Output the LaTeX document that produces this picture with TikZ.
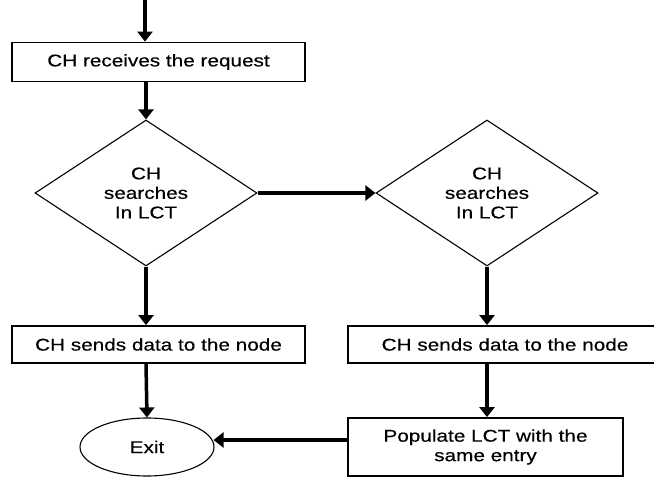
\documentclass[tikz,border=0pt]{standalone}
\usepackage{fontspec}
\setmainfont{Liberation Sans}[FakeStretch=1.22,FakeBold=0.4]
\usetikzlibrary{shapes.geometric,arrows.meta}
\begin{document}
\begin{tikzpicture}[x=1bp,y=-1bp,
  every node/.style={font=\fontsize{17bp}{19.5bp}\selectfont, inner sep=0pt},
  procbox/.style={draw, line width=1.8bp, minimum width=#1, minimum height=37bp, align=center},
  decision/.style={draw, diamond, aspect=1.5, line width=1.1bp, minimum width=222bp, minimum height=146bp, align=center},
  terminal/.style={draw, ellipse, line width=1.1bp, minimum width=134bp, minimum height=58bp},
  flow/.style={line width=3.5bp, -{Triangle[length=10bp,width=15bp]}}]
\useasboundingbox (0,0) rectangle (654,479);

% process steps
\node[procbox=293bp, minimum height=39bp] (recv) at (158.5,62) {CH receives the request};
\node[decision] (search1) at (146,193) {CH\\searches\\In LCT};
\node[decision] (search2) at (487,193) {CH\\searches\\In LCT};
\node[procbox=293bp] (send1) at (158.5,344.5) {CH sends data to the node};
\node[procbox=310bp] (send2) at (503,344.5) {\hspace*{4bp}CH sends data to the node};
\node[procbox=275bp, minimum height=58bp] (populate) at (485.5,447) {Populate LCT with the\\same entry};
\node[terminal] (exit) at (147,447) {Exit};

% entry point
\coordinate (entry) at (145,0);

% connectors
\draw[flow] (entry) -- (entry |- recv.north);
\draw[flow] (search1.north |- recv.south) -- (search1.north);
\draw[flow] (search1.east) -- (search2.west);
\draw[flow] (search1.south) -- (search1.south |- send1.north);
\draw[flow] (search2.south) -- (search2.south |- send2.north);
\draw[flow] (search1.south |- send1.south) -- (exit.north);
\draw[flow] (search2.south |- send2.south) -- (search2.south |- populate.north);
\draw[flow] ([yshift=7bp]populate.west) -- ([yshift=7bp,xshift=-1bp]populate.west -| exit.east);
\end{tikzpicture}
\end{document}
